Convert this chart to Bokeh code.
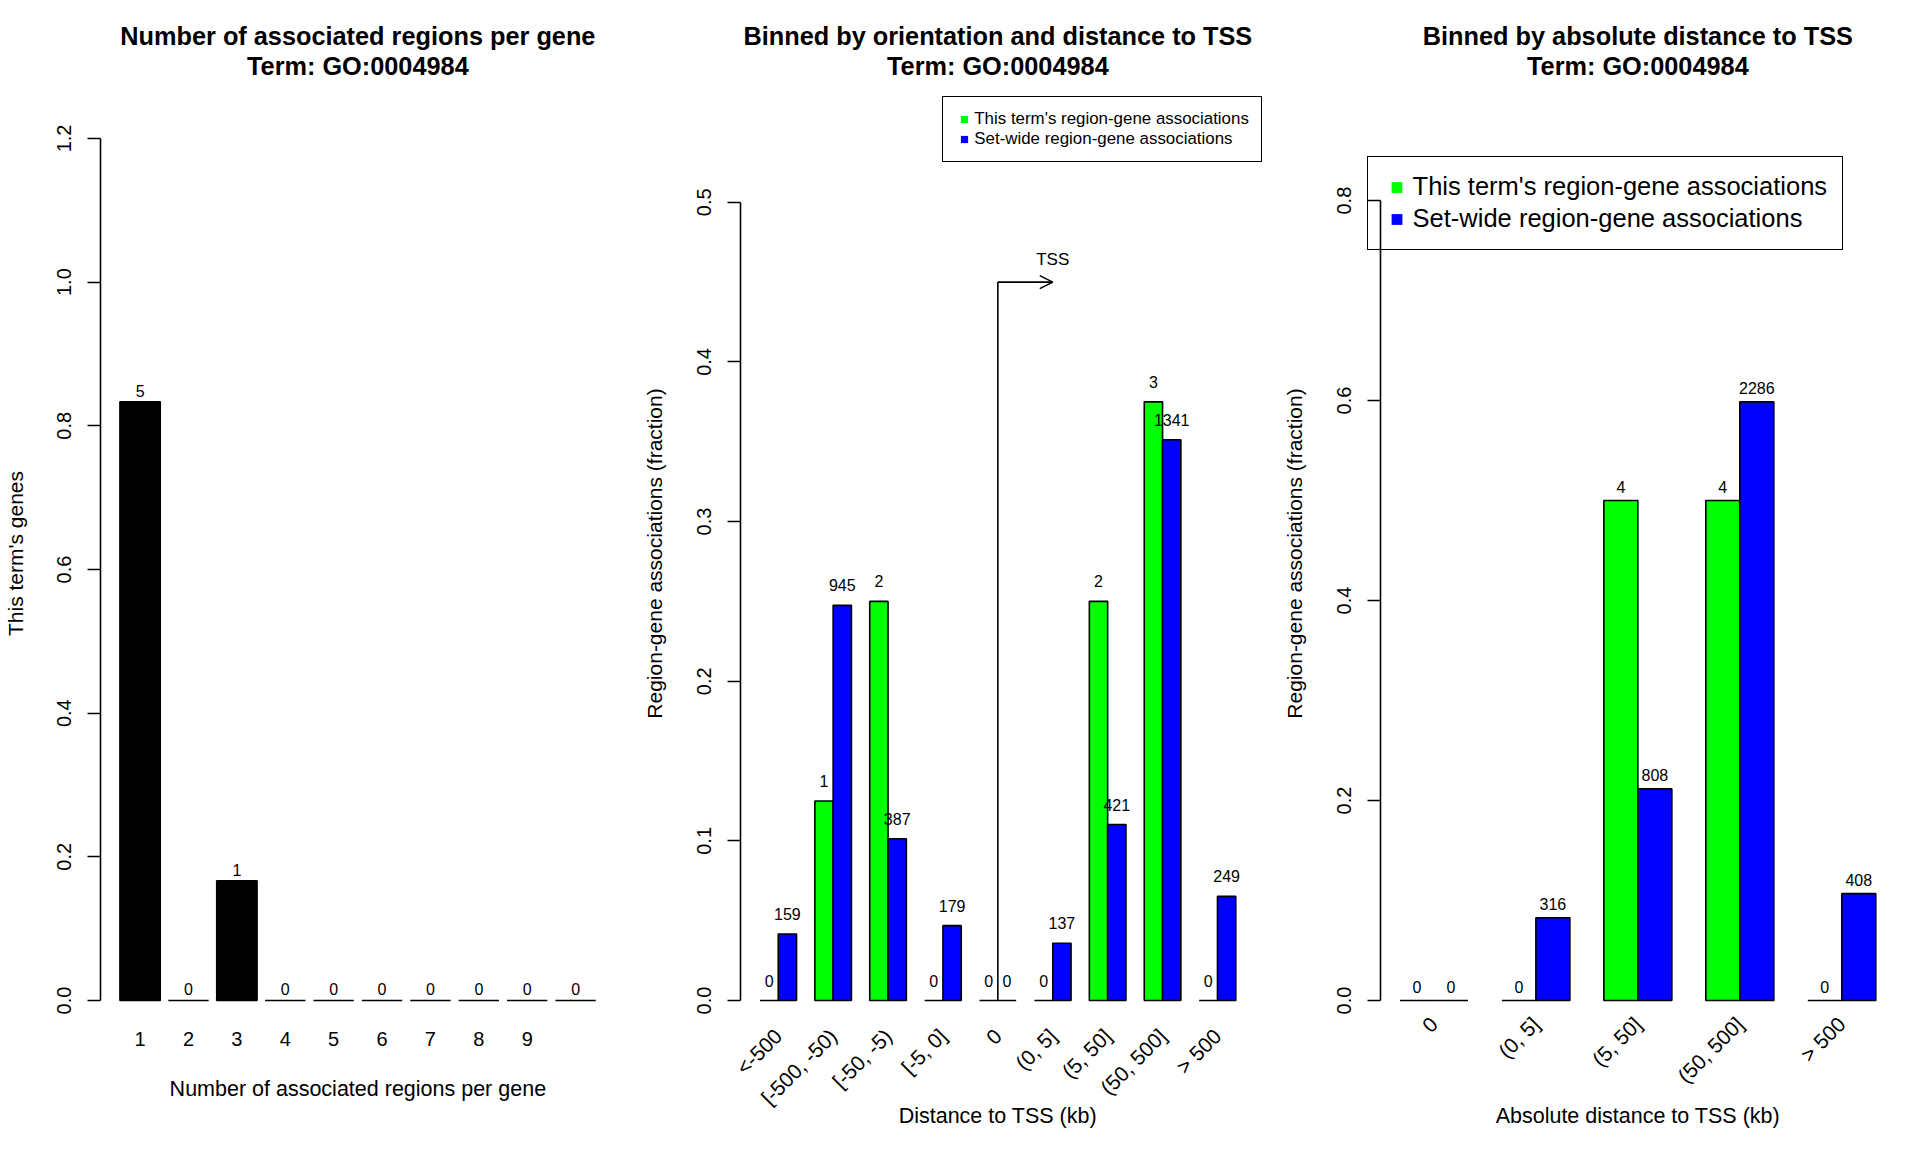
import numpy as np
from bokeh.plotting import figure
from bokeh.models import (Range1d, LinearAxis, FixedTicker, Label, Legend, LegendItem,
                          Arrow, OpenHead, ColumnDataSource, PrintfTickFormatter)
from bokeh.layouts import row
from bokeh.embed import file_html
from bokeh.resources import INLINE
from bokeh.core.properties import value

# ---------------- data ----------------
TERM = "GO:0004984"
regions_per_gene_labels = ["1", "2", "3", "4", "5", "6", "7", "8", "9", ""]
genes_per_region_count = [5, 0, 1, 0, 0, 0, 0, 0, 0, 0]

orient_bins = ["<-500", "[-500, -50)", "[-50, -5)", "[-5, 0]", "0",
               "(0, 5]", "(5, 50]", "(50, 500]", "> 500"]
orient_term_counts = [0, 1, 2, 0, 0, 0, 2, 3, 0]
orient_setwide_counts = [159, 945, 387, 179, 0, 137, 421, 1341, 249]

abs_bins = ["0", "(0, 5]", "(5, 50]", "(50, 500]", "> 500"]
abs_term_counts = [0, 0, 4, 4, 0]
abs_setwide_counts = [0, 316, 808, 2286, 408]

y_ticks_1 = [0.0, 0.2, 0.4, 0.6, 0.8, 1.0, 1.2]
y_ticks_2 = [0.0, 0.1, 0.2, 0.3, 0.4, 0.5]
y_ticks_3 = [0.0, 0.2, 0.4, 0.6, 0.8]

TSS_ARROW_HEIGHT = 0.45

# ---------------- style / layout (pixels) ----------------
FONT = "Liberation Sans"
GREEN = "#00FF00"
BLUE = "#0000FF"
LW = 1.6
FIG_W = 640
FIG_H = 1152
REG_LEFT = 100.4       # plot region inside each panel
REG_RIGHT = 614.3
REG_TOP = 102.0
REG_ZERO = 1000.0      # pixel row of y = 0


def frac(counts):
    c = np.asarray(counts, dtype=float)
    return c / c.sum()


def make_fig(xs, xe, ymax):
    ppx = (REG_RIGHT - REG_LEFT) / (xe - xs)
    ppu = (REG_ZERO - REG_TOP) / ymax
    x0 = xs - REG_LEFT / ppx
    x1 = xe + (FIG_W - REG_RIGHT) / ppx
    y1 = ymax + REG_TOP / ppu
    y0 = ymax - (FIG_H - REG_TOP) / ppu
    p = figure(width=FIG_W, height=FIG_H,
               x_range=Range1d(x0, x1), y_range=Range1d(y0, y1),
               output_backend="svg", toolbar_location=None,
               x_axis_type=None, y_axis_type=None,
               min_border=0, min_border_left=0, min_border_right=0,
               min_border_top=0, min_border_bottom=0)
    p.outline_line_color = None
    p.background_fill_color = "white"
    p.border_fill_color = "white"
    geo = dict(ppu=ppu, ppx=ppx, xs=xs, xe=xe, ymax=ymax)
    return p, geo


def X(geo, px):
    return geo["xs"] + (px - REG_LEFT) / geo["ppx"]


def Y(geo, py):
    return geo["ymax"] - (py - REG_TOP) / geo["ppu"]


def add_y_axis(p, geo, ticks):
    ax = LinearAxis(ticker=FixedTicker(ticks=ticks, minor_ticks=[]),
                    formatter=PrintfTickFormatter(format="%.1f"),
                    bounds=(ticks[0], ticks[-1]), fixed_location=geo["xs"],
                    major_tick_out=13, major_tick_in=0, minor_tick_out=0, minor_tick_in=0,
                    major_label_orientation="vertical", major_label_standoff=17,
                    axis_line_width=LW, major_tick_line_width=LW,
                    axis_line_color="black", major_tick_line_color="black",
                    major_label_text_font=FONT, major_label_text_font_size="20px",
                    major_label_text_color="black")
    p.add_layout(ax, "left")


def add_x_axis(p, ticks, labels, loc, standoff, orientation, size):
    ax = LinearAxis(ticker=FixedTicker(ticks=ticks, minor_ticks=[]),
                    major_label_overrides={t: l for t, l in zip(ticks, labels)},
                    fixed_location=loc,
                    axis_line_color=None, major_tick_line_color=None,
                    major_tick_out=0, major_tick_in=0, minor_tick_out=0, minor_tick_in=0,
                    major_label_orientation=orientation, major_label_standoff=standoff,
                    major_label_text_font=FONT, major_label_text_font_size=size,
                    major_label_text_color="black")
    p.add_layout(ax, "below")


def text_label(p, x, y, txt, size, bold=False, angle=0.0):
    p.add_layout(Label(x=x, y=y, text=txt, text_font=FONT, text_font_size=size,
                       text_font_style="bold" if bold else "normal",
                       text_align="center", text_baseline="middle", angle=angle,
                       text_color="black"))


def decorate(p, geo, title, ylab, xlab, ylab_px, xlab_py):
    cx = X(geo, (REG_LEFT + REG_RIGHT) / 2)
    text_label(p, cx, Y(geo, 35.5), title, "25.3px", bold=True)
    text_label(p, cx, Y(geo, 65), "Term: " + TERM, "25.3px", bold=True)
    text_label(p, cx, Y(geo, xlab_py), xlab, "21.5px")
    text_label(p, X(geo, ylab_px), Y(geo, (REG_TOP + REG_ZERO) / 2 + 2), ylab, "21px",
               angle=np.pi / 2)


def count_labels(p, x, tops, counts):
    src = ColumnDataSource(dict(x=x, y=np.asarray(tops) + 0.01,
                                t=[str(c) for c in counts]))
    p.text(x="x", y="y", text="t", source=src, text_align="center",
           text_baseline="middle", y_offset=-4, text_font=value(FONT),
           text_font_size="16px", text_color="black")


# ---------------- panel 1 ----------------
n1 = len(genes_per_region_count)
centers1 = [7 + 12 * i for i in range(n1)]   # bar width 10, gap 2 (R space = 0.2)
f1 = frac(genes_per_region_count)
p1, g1 = make_fig(2 - 0.04 * 118, 120 + 0.04 * 118, 1.5 * f1.max())
p1.vbar(x=centers1, width=10, top=f1, bottom=0, fill_color="black",
        line_color="black", line_width=LW)
count_labels(p1, centers1, f1, genes_per_region_count)
add_y_axis(p1, g1, y_ticks_1)
add_x_axis(p1, centers1[:9], regions_per_gene_labels[:9], 0, 31, "horizontal", "20px")
decorate(p1, g1, "Number of associated regions per gene", "This term's genes",
         "Number of associated regions per gene", 14.5, 1088.6)


# ---------------- panels 2 & 3 (grouped) ----------------
def grouped_panel(bins, term_counts, set_counts, yticks, title, xlab, legend_kind):
    n = len(bins)
    xs, xe = 1 - 0.04 * (3 * n - 1), 3 * n + 0.04 * (3 * n - 1)
    ft = frac(term_counts)
    fs = frac(set_counts)
    p, g = make_fig(xs, xe, 1.5 * max(ft.max(), fs.max()))
    gx = [3 * (i + 1) - 1 for i in range(n)]
    tx = [c - 0.5 for c in gx]
    sx = [c + 0.5 for c in gx]
    p.vbar(x=tx, width=1, top=ft, bottom=0, fill_color=GREEN, line_color="black",
           line_width=LW)
    p.vbar(x=sx, width=1, top=fs, bottom=0, fill_color=BLUE, line_color="black",
           line_width=LW)
    count_labels(p, tx, ft, term_counts)
    count_labels(p, sx, fs, set_counts)
    add_y_axis(p, g, yticks)
    add_x_axis(p, gx, bins, -0.02, 0, np.pi / 4, "21px")
    decorate(p, g, title, "Region-gene associations (fraction)", xlab, 13.5, 1115.5)

    lg_src = ColumnDataSource(dict(x=[-1e6], y=[-1e6]))
    mt = p.scatter(x="x", y="y", source=lg_src, marker="square", fill_color=GREEN,
                   line_color=None)
    ms = p.scatter(x="x", y="y", source=lg_src, marker="square", fill_color=BLUE,
                   line_color=None)
    items = [LegendItem(label="This term's region-gene associations", renderers=[mt]),
             LegendItem(label="Set-wide region-gene associations", renderers=[ms])]
    if legend_kind == "small":
        lg = Legend(items=items, location=(302.3, FIG_H - 161.7), margin=0, padding=12,
                    spacing=0, glyph_width=18, glyph_height=18, label_height=18,
                    label_standoff=1, label_text_font=FONT, label_text_font_size="16.9px",
                    label_text_color="black",
                    border_line_color="black", border_line_width=LW, border_line_alpha=1,
                    background_fill_color="white", background_fill_alpha=1)
    else:
        lg = Legend(items=items, location=(86.6, FIG_H - 249.8), margin=0, padding=15,
                    spacing=2, glyph_width=27, glyph_height=30, label_height=30,
                    label_standoff=3, label_text_font=FONT, label_text_font_size="25.5px",
                    label_text_color="black",
                    border_line_color="black", border_line_width=LW, border_line_alpha=1,
                    background_fill_alpha=0)
    p.add_layout(lg)
    return p, g, gx


p2, g2, gx2 = grouped_panel(orient_bins, orient_term_counts, orient_setwide_counts,
                            y_ticks_2, "Binned by orientation and distance to TSS",
                            "Distance to TSS (kb)", "small")
# TSS marker: vertical line at the "0" bin, arrow towards the downstream bin
tss_i = orient_bins.index("0")
x_tss0 = gx2[tss_i]
x_tss1 = gx2[tss_i + 1]
p2.segment(x0=[x_tss0], y0=[0], x1=[x_tss0], y1=[TSS_ARROW_HEIGHT], line_color="black",
           line_width=LW)
p2.add_layout(Arrow(x_start=x_tss0, y_start=TSS_ARROW_HEIGHT, x_end=x_tss1,
                    y_end=TSS_ARROW_HEIGHT, line_width=LW, line_color="black",
                    end=OpenHead(size=13, line_width=LW, line_color="black")))
p2.add_layout(Label(x=x_tss1, y=TSS_ARROW_HEIGHT + 23 / g2["ppu"], text="TSS",
                    text_font=FONT, text_font_size="17px", text_align="center",
                    text_baseline="middle", text_color="black"))

p3, g3, gx3 = grouped_panel(abs_bins, abs_term_counts, abs_setwide_counts,
                            y_ticks_3, "Binned by absolute distance to TSS",
                            "Absolute distance to TSS (kb)", "big")

layout = row(p1, p2, p3, spacing=0)
open("out.html", "w").write(file_html(layout, INLINE))
